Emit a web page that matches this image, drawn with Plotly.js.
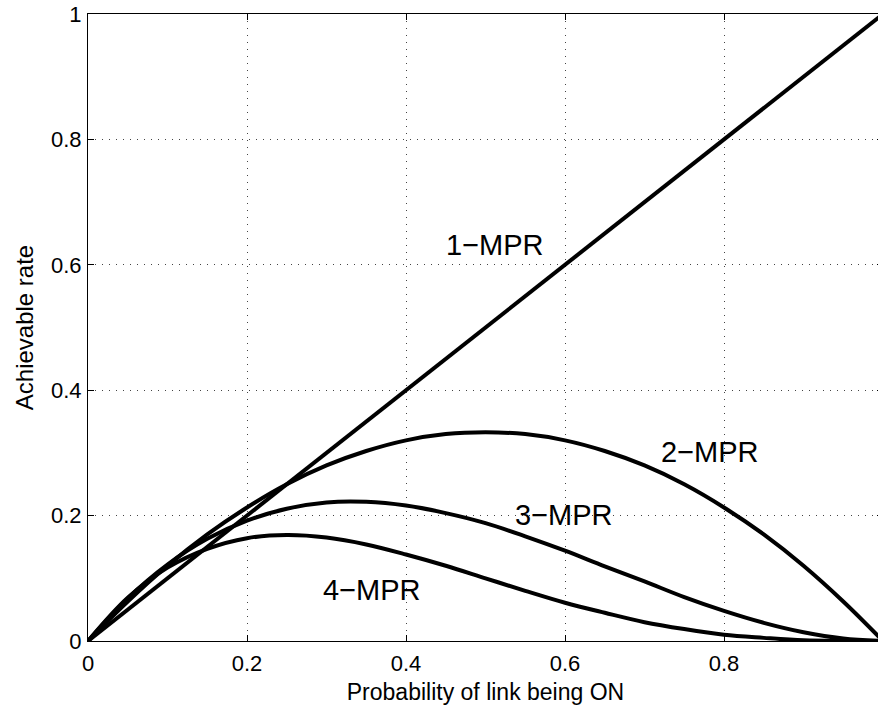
<!DOCTYPE html>
<html>
<head>
<meta charset="utf-8">
<script src="https://cdn.plot.ly/plotly-3.0.1.min.js"></script>
<style>
html,body{margin:0;padding:0;overflow:hidden;background:#fff;}
#chart{width:884px;height:708px;}
</style>
</head>
<body>
<div id="chart"></div>
<script>
// Probability of link being ON
const p = [0,0.05,0.10,0.15,0.20,0.25,0.30,0.35,0.40,0.45,0.50,0.55,0.60,0.65,0.70,0.75,0.80,0.85,0.90,0.95,1.00];
// 1-MPR (straight line)
const p1 = [0, 1];
const mpr1 = [0, 1];
// 2-MPR
const mpr2 = [0,0.063,0.120,0.170,0.213,0.250,0.280,0.303,0.320,0.330,0.333,0.330,0.320,0.303,0.280,0.250,0.213,0.170,0.120,0.063,0];
// 3-MPR
const mpr3 = [0,0.068,0.122,0.163,0.192,0.211,0.221,0.222,0.216,0.204,0.188,0.167,0.144,0.119,0.095,0.070,0.048,0.029,0.014,0.004,0];
// 4-MPR
const mpr4 = [0,0.069,0.117,0.147,0.164,0.169,0.165,0.154,0.138,0.120,0.100,0.080,0.061,0.045,0.030,0.019,0.010,0.005,0.001,0.000,0];

const labels = ['1\u2212MPR','2\u2212MPR','3\u2212MPR','4\u2212MPR'];
const labelX = [0.512, 0.782, 0.599, 0.357];
const labelY = [0.632, 0.301, 0.201, 0.081];

const FONT = 'Liberation Sans, Arial, Helvetica, sans-serif';
const lineStyle = {color:'#000', width:4, shape:'spline', smoothing:1};

const traces = [
  {x:p1, y:mpr1, mode:'lines', line:{color:'#000', width:4}, name:labels[0]},
  {x:p, y:mpr2, mode:'lines', line:lineStyle, name:labels[1]},
  {x:p, y:mpr3, mode:'lines', line:lineStyle, name:labels[2]},
  {x:p, y:mpr4, mode:'lines', line:lineStyle, name:labels[3]}
];

const axisCommon = {
  showline:true, linecolor:'#000', linewidth:1, mirror:'ticks',
  ticks:'inside', ticklen:6, tickcolor:'#000', tickwidth:1,
  showgrid:true, gridcolor:'#444', gridwidth:1, griddash:'1px,6px',
  zeroline:false,
  tickfont:{family:FONT, size:22, color:'#000'}
};

const layout = {
  width:884, height:708,
  margin:{l:88, r:1, t:14, b:67},
  paper_bgcolor:'#fff', plot_bgcolor:'#fff',
  showlegend:false,
  xaxis:Object.assign({}, axisCommon, {
    range:[0,1], dtick:0.2, tick0:0, ticklabelstandoff:3,
    title:{text:'Probability of link being ON', font:{family:FONT, size:23, color:'#000'}, standoff:8}
  }),
  yaxis:Object.assign({}, axisCommon, {
    range:[0,1], dtick:0.2, tick0:0, ticklabelstandoff:1,
    title:{text:'Achievable rate', font:{family:FONT, size:24, color:'#000'}, standoff:10}
  }),
  annotations: labels.map((t,i)=>({
    x:labelX[i], y:labelY[i], xref:'x', yref:'y', text:t, showarrow:false,
    font:{family:FONT, size:29, color:'#000'}
  }))
};

Plotly.newPlot('chart', traces, layout, {displayModeBar:false, staticPlot:true});
</script>
</body>
</html>
